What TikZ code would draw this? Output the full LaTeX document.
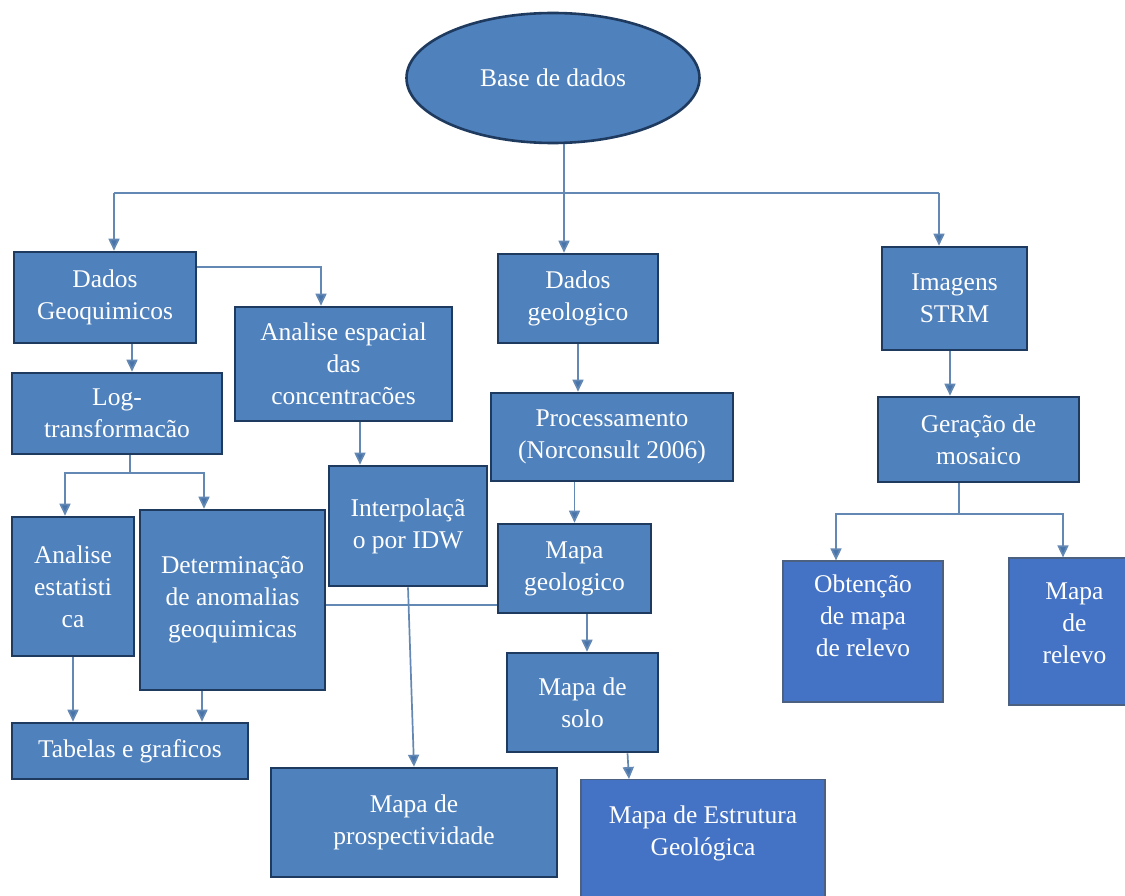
\documentclass[tikz,border=0pt]{standalone}
\usepackage{fontspec}
\setmainfont{Liberation Serif}
\usepackage{tikz}
\usetikzlibrary{positioning, arrows.meta, shapes.geometric}
\definecolor{bfill}{HTML}{4F81BD}
\definecolor{bfilltwo}{HTML}{4472C4}
\definecolor{bline}{HTML}{1F3A5F}
\definecolor{cline}{HTML}{6488B4}

\begin{document}
\begin{tikzpicture}[x=1pt, y=-1pt,
    block/.style={rectangle, draw=bline, line width=2.6pt, fill=bfill, text=white, align=center, inner sep=0pt, font=\fontsize{25.5}{32}\selectfont},
    lblock/.style={block, fill=bfilltwo, draw=bline!80, line width=1.2pt},
    conn/.style={cline, line width=1.7pt},
    arr/.style={conn, -{Triangle[length=12pt, width=11pt, fill=bfill!90!black]}},
]
\useasboundingbox[fill=white] (0,0) rectangle (1125,896);

\node[block, ellipse, minimum width=293pt, minimum height=130pt] (base) at (553,78) {Base de dados};

\node[block, minimum width=182pt, minimum height=91pt] (geoq) at (105,297.5) {Dados\\Geoquimicos};
\node[block, minimum width=217pt, minimum height=114pt] (espacial) at (343.5,364) {Analise espacial\\das\\concentracões};
\node[block, minimum width=160pt, minimum height=89pt] (dgeo) at (578,298.5) {Dados\\geologico};
\node[block, minimum width=145pt, minimum height=103pt] (imagens) at (954.5,298.5) {Imagens\\STRM};
\node[block, minimum width=210pt, minimum height=81pt] (logt) at (117,413.5) {Log-\\transformacão};
\node[block, minimum width=242pt, minimum height=88pt] (proc) at (612,437) {Processamento\\(Norconsult 2006)};
\node[block, minimum width=201pt, minimum height=85pt] (mosaico) at (978.5,439.5) {Geração de\\mosaico};
\node[block, minimum width=158pt, minimum height=120pt] (interp) at (408,526) {Interpolaçã\\o por IDW};
\node[block, minimum width=122pt, minimum height=139pt] (estat) at (73,586.5) {Analise\\estatisti\\ca};
\node[block, minimum width=185pt, minimum height=180pt] (anomal) at (232.5,600) {Determinação\\de anomalias\\geoquimicas};
\node[block, minimum width=153pt, minimum height=89pt] (mgeo) at (574.5,568.5) {Mapa\\geologico};
\node[lblock, minimum width=160pt, minimum height=141pt] (obtencao) at (863,631.5) {Obtenção\\de mapa\\de relevo\\\mbox{}};
\node[lblock, minimum width=131pt, minimum height=147pt] (relevo) at (1074.5,631.5) {Mapa\\de\\relevo\\[-16pt]\mbox{}};
\node[block, minimum width=236pt, minimum height=56pt] (tabelas) at (130,751) {Tabelas e graficos};
\node[block, minimum width=151pt, minimum height=99pt] (solo) at (582.5,702.5) {Mapa de\\solo};
\node[block, minimum width=286pt, minimum height=109pt] (prosp) at (414,822.5) {Mapa de\\prospectividade};
\node[lblock, minimum width=244pt, minimum height=134pt, anchor=north] (estrut) at (703,779) {Mapa de Estrutura\\Geológica\\\mbox{}};

\coordinate (split) at (564,193);
\coordinate (hl) at (114,193);
\coordinate (hr) at (939,193);
\draw[conn] (base.south -| split) -- (split);
\draw[conn] (hl) -- (hr);
\draw[arr] (split) -- (split |- dgeo.north);
\draw[arr] (hl) -- (hl |- geoq.north);
\draw[arr] (hr) -- (hr |- imagens.north);

\draw[arr] ([yshift=-16pt]geoq.north east) -| ([xshift=-22.5pt]espacial.north);
\draw[arr] ([xshift=27pt]geoq.south) -- ([xshift=27pt]geoq.south |- logt.north);
\coordinate (lf) at (130,473);
\draw[conn] (lf |- logt.south) -- (lf);
\draw[arr] (lf) -| ([xshift=-8pt]estat.north);
\draw[arr] (lf) -| ([xshift=-28.5pt]anomal.north);
\draw[arr] ([xshift=16.5pt]espacial.south) -- ([xshift=16.5pt]espacial.south |- interp.north);
\draw[arr] (interp.south) -- (prosp.north);
\draw[conn] ([yshift=-5pt]anomal.east) -- ([yshift=-5pt]anomal.east -| mgeo.west);
\draw[arr] (estat.south) -- (estat.south |- tabelas.north);
\draw[arr] ([xshift=-30.5pt]anomal.south) -- ([xshift=-30.5pt]anomal.south |- tabelas.north);

\draw[arr] (dgeo.south) -- (dgeo.south |- proc.north);
\draw[arr] (mgeo.north |- proc.south) -- (mgeo.north);
\draw[arr] ([xshift=4.5pt]solo.north |- mgeo.south) -- ([xshift=4.5pt]solo.north);
\draw[arr] ([xshift=45pt]solo.south) -- ([xshift=-74pt]estrut.north);

\draw[arr] ([xshift=-4.5pt]imagens.south) -- ([xshift=-4.5pt]imagens.south |- mosaico.north);
\coordinate (mf) at (959,514);
\draw[conn] (mf |- mosaico.south) -- (mf);
\draw[arr] (mf) -| ([xshift=-27pt]obtencao.north);
\draw[arr] (mf) -| ([xshift=-11.5pt]relevo.north);
\end{tikzpicture}
\end{document}
